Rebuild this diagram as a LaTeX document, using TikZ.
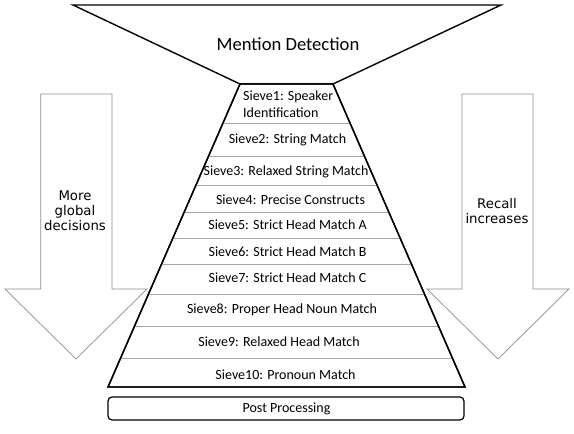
\documentclass[tikz,border=0pt]{standalone}
\usepackage{fontspec}
\setmainfont{Carlito}
\newfontfamily\arrowfont{DejaVu Sans}
\usetikzlibrary{calc}
\begin{document}
\begin{tikzpicture}[x=1pt,y=-1pt,
  bigarrow/.style={draw=black!45,line width=0.7pt,fill=white,line join=miter},
  outline/.style={draw=black,line width=1.4pt,fill=white,line join=miter},
  divider/.style={draw=black!35,line width=0.9pt},
  sievetext/.style={font=\fontsize{14}{16}\selectfont,inner sep=0pt,anchor=center},
  arrowtext/.style={font=\arrowfont\fontsize{13.3}{15}\selectfont,align=center,inner sep=0pt}]
\useasboundingbox (0,0) rectangle (574,434);
% side arrows
\draw[bigarrow] (40.7,94) -- (112,94) -- (112,289) -- (147,289) -- (76,359) -- (5,289) -- (40.7,289) -- cycle;
\draw[bigarrow] (462,94) -- (533,94) -- (533,289) -- (569,289) -- (498,359) -- (427,289) -- (462,289) -- cycle;
\node[arrowtext] (left) at (75,211) {More\\global\\decisions};
\node[arrowtext] (right) at (497,211) {Recall\\increases};
% funnel
\coordinate (ftl) at (73,5);
\coordinate (ftr) at (501,5);
\coordinate (tl) at (240,84);
\coordinate (tr) at (333,84);
\coordinate (bl) at (108,387);
\coordinate (br) at (465,387);
\draw[outline] (ftl) -- (ftr) -- (tr) -- (tl) -- cycle;
\node[font=\fontsize{18.6}{20}\selectfont,inner sep=0pt] (md) at (288,44) {Mention Detection};
% sieve trapezoid
\draw[outline] (tl) -- (tr) -- (br) -- (bl) -- cycle;
\foreach \y [count=\i] in {123,156,185,212,238,264,294,326,358}{
  \draw[divider] ($(tl)!{(\y-84)/303}!(bl)$) -- ($(tr)!{(\y-84)/303}!(br)$);
}
\draw[outline,fill=none] (tl) -- (tr) -- (br) -- (bl) -- cycle;
\node[sievetext,anchor=west] (s1a) at (243,97) {Sieve1: Speaker};
\node[sievetext,anchor=west] (s1b) at (243,113) {Identification};
\node[sievetext] (s2) at (287.5,140) {Sieve2: String Match};
\node[sievetext] (s3) at (286,172) {Sieve3: Relaxed String Match};
\node[sievetext] (s4) at (290.5,200) {Sieve4: Precise Constructs};
\node[sievetext] (s5) at (287.5,225) {Sieve5: Strict Head Match A};
\node[sievetext] (s6) at (287.5,252) {Sieve6: Strict Head Match B};
\node[sievetext] (s7) at (287.5,278) {Sieve7: Strict Head Match C};
\node[sievetext] (s8) at (282,310) {Sieve8: Proper Head Noun Match};
\node[sievetext] (s9) at (279,342) {Sieve9: Relaxed Head Match};
\node[sievetext] (s10) at (285.5,375) {Sieve10: Pronoun Match};
% post processing
\draw[draw=black,line width=1.2pt,rounded corners=4pt,fill=white] (108,397) rectangle (464,420);
\node[sievetext] (pp) at (286.5,408.5) {Post Processing};
\end{tikzpicture}
\end{document}
